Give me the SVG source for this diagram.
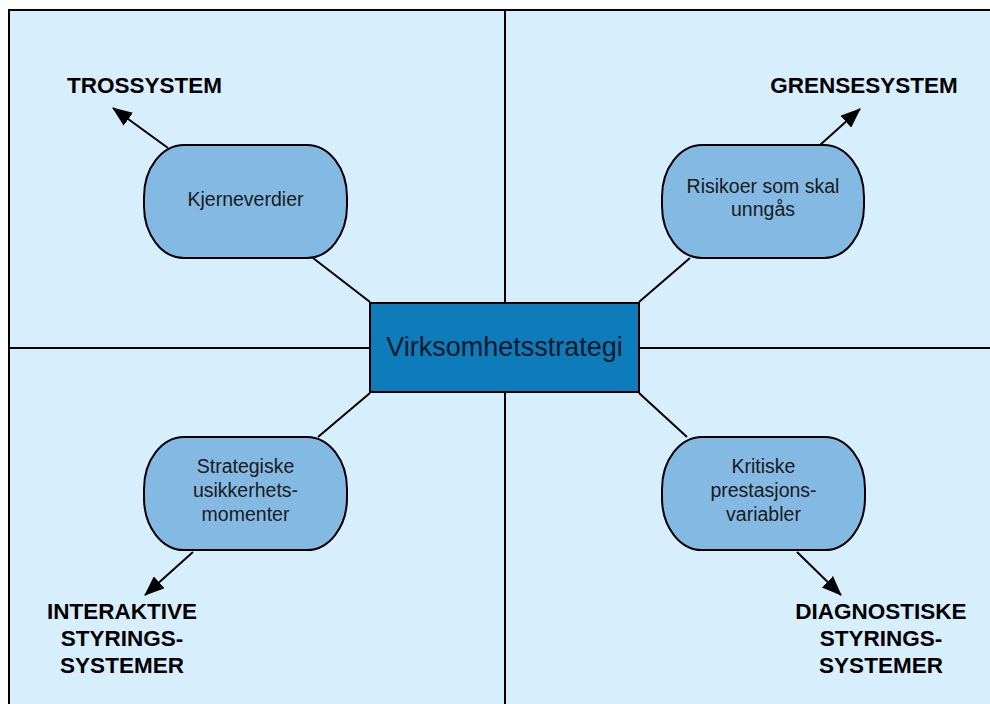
<svg xmlns="http://www.w3.org/2000/svg" width="990" height="704" viewBox="0 0 990 704">
<defs>
<style>
.ln{stroke:#000;stroke-width:2;fill:none}
.node{fill:#84b9e3;stroke:#000;stroke-width:2}
.nt{font-family:"Liberation Sans",Arial,sans-serif;font-size:19.5px;fill:#1a1a1a;text-anchor:middle}
.lab{font-family:"Liberation Sans",Arial,sans-serif;font-size:22.5px;font-weight:bold;fill:#000;text-anchor:middle}
</style>
<marker id="ahb" viewBox="0 0 20 16" refX="19" refY="8" markerWidth="20" markerHeight="16" markerUnits="userSpaceOnUse" orient="auto">
<path d="M0,0 L20,8 L0,16 z" fill="#000"/>
</marker>
</defs>
<g id="background">
<rect x="9" y="10" width="1000" height="720" fill="#d7eefd" stroke="#000" stroke-width="2"/>
<line class="ln" x1="505" y1="10" x2="505" y2="704"/>
<line class="ln" x1="9" y1="348" x2="990" y2="348"/>
</g>
<g id="connectors">
<line class="ln" x1="313" y1="258" x2="370" y2="302"/>
<line class="ln" x1="690" y1="258" x2="639" y2="302"/>
<line class="ln" x1="318" y1="437" x2="370" y2="393"/>
<line class="ln" x1="687" y1="437" x2="639" y2="393"/>
<line class="ln" x1="168" y1="148" x2="113" y2="108" marker-end="url(#ahb)"/>
<line class="ln" x1="820" y1="145" x2="860" y2="109" marker-end="url(#ahb)"/>
<line class="ln" x1="193" y1="552" x2="145" y2="595" marker-end="url(#ahb)"/>
<line class="ln" x1="797" y1="552" x2="841" y2="595" marker-end="url(#ahb)"/>
</g>
<g id="center">
<rect x="370" y="303" width="269" height="89" fill="#0e7bba" stroke="#000" stroke-width="2"/>
<text x="504.5" y="356" font-family="Liberation Sans,Arial,sans-serif" font-size="27" fill="#0a1a2a" text-anchor="middle">Virksomhetsstrategi</text>
</g>
<g id="node-kjerneverdier">
<rect class="node" x="144" y="145" width="203" height="113" rx="40" ry="52"/>
<text class="nt" x="245.5" y="206">Kjerneverdier</text>
</g>
<g id="node-risikoer">
<rect class="node" x="662" y="145" width="202" height="113" rx="40" ry="52"/>
<text class="nt" x="763" y="193">Risikoer som skal</text>
<text class="nt" x="763" y="216">unngås</text>
</g>
<g id="node-strategiske">
<rect class="node" x="144" y="437" width="203" height="113" rx="40" ry="52"/>
<text class="nt" x="245.5" y="473">Strategiske</text>
<text class="nt" x="245.5" y="497">usikkerhets-</text>
<text class="nt" x="245.5" y="521">momenter</text>
</g>
<g id="node-kritiske">
<rect class="node" x="662" y="437" width="203" height="113" rx="40" ry="52"/>
<text class="nt" x="763.5" y="473">Kritiske</text>
<text class="nt" x="763.5" y="497">prestasjons-</text>
<text class="nt" x="763.5" y="521">variabler</text>
</g>
<g id="label-tros">
<text class="lab" x="144.5" y="93">TROSSYSTEM</text>
</g>
<g id="label-grense">
<text class="lab" x="864" y="93">GRENSESYSTEM</text>
</g>
<g id="label-interaktive">
<text class="lab" x="122" y="619">INTERAKTIVE</text>
<text class="lab" x="122" y="646">STYRINGS-</text>
<text class="lab" x="122" y="673">SYSTEMER</text>
</g>
<g id="label-diagnostiske">
<text class="lab" x="881" y="619">DIAGNOSTISKE</text>
<text class="lab" x="881" y="646">STYRINGS-</text>
<text class="lab" x="881" y="673">SYSTEMER</text>
</g>
</svg>
